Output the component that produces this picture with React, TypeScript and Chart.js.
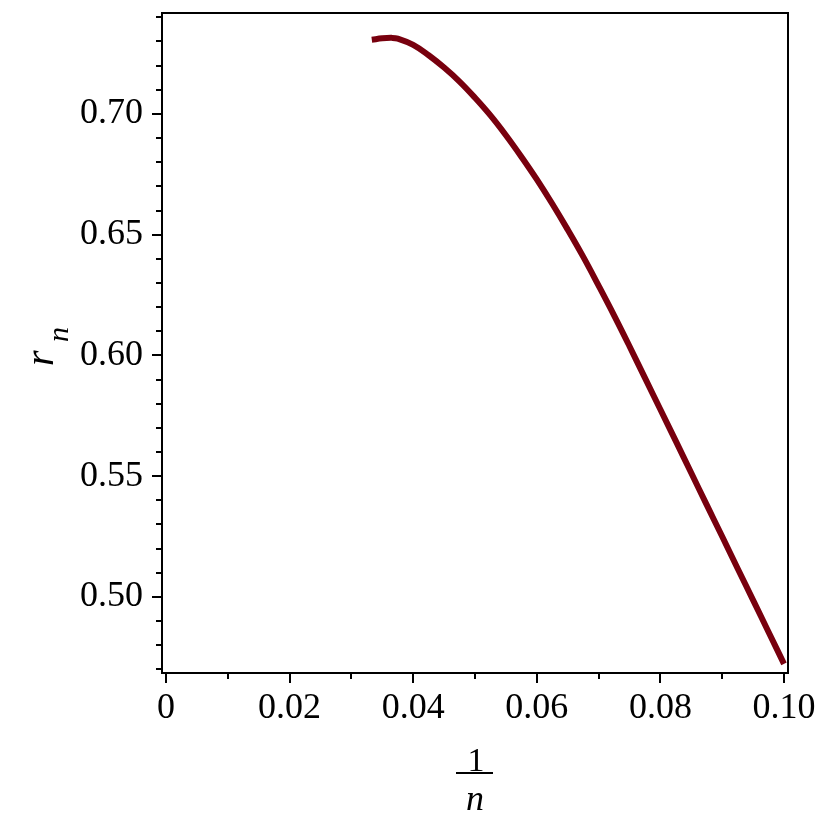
import React, { useEffect, useRef } from "react";
import { Chart, registerables } from "chart.js";

Chart.register(...registerables);

// 1/n values (x) and r_n values (y)
const invN = [
  0.0333, 0.035, 0.0365, 0.0375, 0.04, 0.0425, 0.045, 0.0475, 0.05, 0.0525,
  0.055, 0.0575, 0.06, 0.0625, 0.065, 0.0675, 0.07, 0.0725, 0.075, 0.0775,
  0.08, 0.0825, 0.085, 0.0875, 0.09, 0.0925, 0.095, 0.0975, 0.1,
];
const rN = [
  0.7307, 0.7313, 0.7315, 0.7312, 0.7286, 0.7243, 0.7192, 0.7134, 0.7067, 0.6994,
  0.6912, 0.6823, 0.6729, 0.6628, 0.6521, 0.6409, 0.6289, 0.6166, 0.6038, 0.5907,
  0.5776, 0.5645, 0.5513, 0.5381, 0.525, 0.5118, 0.4987, 0.4855, 0.4723,
];

const xTickValues = [0, 0.01, 0.02, 0.03, 0.04, 0.05, 0.06, 0.07, 0.08, 0.09, 0.1];
const xTickLabels = ["0", "", "0.02", "", "0.04", "", "0.06", "", "0.08", "", "0.10"];

const yTickValues = [
  0.47, 0.48, 0.49, 0.5, 0.51, 0.52, 0.53, 0.54, 0.55, 0.56, 0.57, 0.58, 0.59,
  0.6, 0.61, 0.62, 0.63, 0.64, 0.65, 0.66, 0.67, 0.68, 0.69, 0.7, 0.71, 0.72,
  0.73, 0.74,
];
const yTickLabels = [
  "", "", "", "0.50", "", "", "", "", "0.55", "", "", "", "",
  "0.60", "", "", "", "", "0.65", "", "", "", "", "0.70", "", "",
  "", "",
];

const LINE_COLOR = "#78000E";
const FONT = '"Liberation Serif", "Times New Roman", serif';

const framePlugin = {
  id: "mapleFrame",
  beforeDatasetsDraw(chart: any) {
    const { ctx, chartArea: a, scales } = chart;
    ctx.save();
    ctx.strokeStyle = "#000";
    ctx.lineWidth = 2;
    ctx.strokeRect(a.left, a.top, a.right - a.left, a.bottom - a.top);
    ctx.beginPath();
    xTickValues.forEach((v, i) => {
      const px = Math.round(scales.x.getPixelForValue(v));
      const len = xTickLabels[i] ? 10 : 6;
      ctx.moveTo(px, a.bottom);
      ctx.lineTo(px, a.bottom + len);
    });
    yTickValues.forEach((v, i) => {
      const py = Math.round(scales.y.getPixelForValue(v));
      const len = yTickLabels[i] ? 10 : 6;
      ctx.moveTo(a.left, py);
      ctx.lineTo(a.left - len, py);
    });
    ctx.stroke();
    ctx.restore();
  },
  afterDraw(chart: any) {
    const { ctx, chartArea: a } = chart;
    ctx.save();
    ctx.fillStyle = "#000";
    ctx.textBaseline = "alphabetic";
    // y title: r_n rotated
    ctx.save();
    ctx.translate(53, 366);
    ctx.rotate(-Math.PI / 2);
    ctx.textAlign = "left";
    ctx.font = `italic 40px ${FONT}`;
    ctx.fillText("r", 0, 0);
    ctx.font = `italic 30px ${FONT}`;
    ctx.fillText("n", 24, 15);
    ctx.restore();
    // x title: 1/n fraction
    const cx = (a.left + a.right) / 2;
    ctx.textAlign = "center";
    ctx.font = `34px ${FONT}`;
    ctx.fillText("1", cx + 1, 771);
    ctx.fillRect(cx - 19, 772, 37, 2);
    ctx.font = `italic 36px ${FONT}`;
    ctx.fillText("n", cx, 810);
    ctx.restore();
  },
};

export default function App() {
  const canvasRef = useRef<HTMLCanvasElement | null>(null);

  useEffect(() => {
    const canvas = canvasRef.current;
    if (!canvas) return;
    const chart = new Chart(canvas, {
      type: "line",
      data: {
        datasets: [
          {
            data: invN.map((x, i) => ({ x, y: rN[i] })),
            borderColor: LINE_COLOR,
            borderWidth: 6,
            pointRadius: 0,
            fill: false,
            tension: 0.4,
            borderCapStyle: "butt",
          },
        ],
      },
      options: {
        animation: false,
        responsive: false,
        maintainAspectRatio: false,
        layout: { padding: { left: 0, top: 13, right: 42, bottom: 0 } },
        plugins: {
          legend: { display: false },
          tooltip: { enabled: false },
          title: { display: false },
        },
        scales: {
          x: {
            type: "linear",
            min: -0.00065,
            max: 0.10065,
            afterBuildTicks: (s: any) => {
              s.ticks = xTickValues.map((v) => ({ value: v }));
            },
            afterFit: (s: any) => {
              s.height = 157;
              s.paddingLeft = 0;
              s.paddingRight = 0;
            },
            grid: { display: false },
            border: { display: false },
            ticks: {
              autoSkip: false,
              maxRotation: 0,
              minRotation: 0,
              padding: 6,
              color: "#000",
              font: { family: FONT, size: 36 },
              callback: (_v: any, i: number) => xTickLabels[i],
            },
          },
          y: {
            type: "linear",
            min: 0.4685,
            max: 0.7418,
            afterBuildTicks: (s: any) => {
              s.ticks = yTickValues.map((v) => ({ value: v }));
            },
            afterFit: (s: any) => {
              s.width = 162;
              s.paddingTop = 0;
              s.paddingBottom = 0;
            },
            grid: { display: false },
            border: { display: false },
            ticks: {
              autoSkip: false,
              padding: 11,
              color: "#000",
              font: { family: FONT, size: 36 },
              callback: (_v: any, i: number) => yTickLabels[i],
            },
          },
        },
      },
      plugins: [framePlugin],
    } as any);
    return () => chart.destroy();
  }, []);

  return (
    <div style={{ position: "absolute", left: 0, top: 0, width: 830, height: 830, background: "#fff" }}>
      <canvas ref={canvasRef} width={830} height={830} style={{ display: "block" }} />
    </div>
  );
}
